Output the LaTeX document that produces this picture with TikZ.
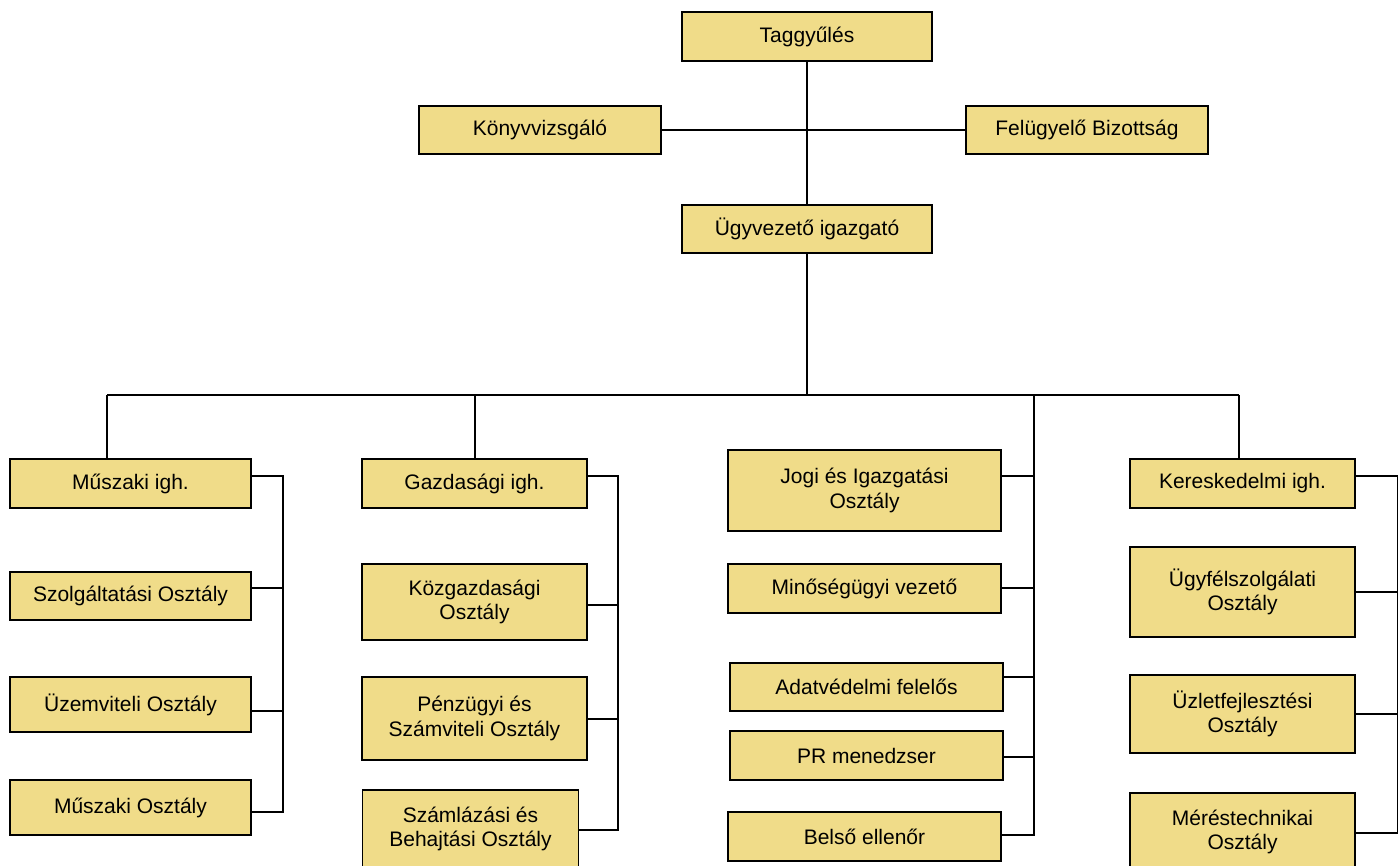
\documentclass[tikz,border=0pt]{standalone}
\usepackage{fontspec}
\setmainfont{Liberation Sans}
\definecolor{boxfill}{RGB}{240,220,137}
\begin{document}
\begin{tikzpicture}[x=1pt,y=-1pt,
  box/.style={draw=black, fill=boxfill, line width=1.8pt, inner sep=0pt, align=center,
    font=\fontsize{21}{24.5}\selectfont, text=black},
  conn/.style={draw=black, line width=1.7pt}]
\useasboundingbox (0,0) rectangle (1398,866);
% top
\node[box, minimum width=250pt, minimum height=49pt] (tag) at (807,36.5) {Taggyűlés};
\node[box, minimum width=242pt, minimum height=48pt] (konyv) at (540,130) {Könyvvizsgáló};
\node[box, minimum width=242pt, minimum height=48pt] (felu) at (1087,130) {Felügyelő Bizottság};
\node[box, minimum width=250pt, minimum height=48pt] (ugy) at (807,229) {Ügyvezető igazgató};
% column 1
\node[box, minimum width=241pt, minimum height=49pt] (mi) at (130.5,483.5) {Műszaki igh.};
\node[box, minimum width=241pt, minimum height=48pt] (szo) at (130.5,596) {Szolgáltatási Osztály};
\node[box, minimum width=241pt, minimum height=55pt] (uzem) at (130.5,704.5) {Üzemviteli Osztály};
\node[box, minimum width=241pt, minimum height=55pt] (mo) at (130.5,807.5) {Műszaki Osztály};
% column 2
\node[box, minimum width=225pt, minimum height=49pt] (gi) at (474.5,483.5) {Gazdasági igh.};
\node[box, minimum width=225pt, minimum height=76pt] (kozg) at (474.5,602) {Közgazdasági\\Osztály};
\node[box, minimum width=225pt, minimum height=83pt] (penz) at (474.5,718.5) {Pénzügyi és\\Számviteli Osztály};
\node[box, minimum width=216pt, minimum height=78pt] (szaml) at (470.5,829) {Számlázási és\\Behajtási Osztály};
% column 3
\node[box, minimum width=273pt, minimum height=81pt] (jogi) at (864.5,490.5) {Jogi és Igazgatási\\Osztály};
\node[box, minimum width=273pt, minimum height=49pt] (minos) at (864.5,588.5) {Minőségügyi vezető};
\node[box, minimum width=273pt, minimum height=48pt] (adat) at (866.5,687) {Adatvédelmi felelős};
\node[box, minimum width=273pt, minimum height=49pt] (pr) at (866.5,755.5) {PR menedzser};
\node[box, minimum width=273pt, minimum height=49pt] (belso) at (864.5,836.5) {Belső ellenőr};
% column 4
\node[box, minimum width=225pt, minimum height=49pt] (ker) at (1242.5,483.5) {Kereskedelmi igh.};
\node[box, minimum width=225pt, minimum height=90pt] (ugyf) at (1242.5,592) {Ügyfélszolgálati\\Osztály};
\node[box, minimum width=225pt, minimum height=78pt] (uzlet) at (1242.5,714) {Üzletfejlesztési\\Osztály};
\node[box, minimum width=225pt, minimum height=78pt] (meres) at (1242.5,832) {Méréstechnikai\\Osztály};
% coordinates
\coordinate (bus) at (807,395);
\coordinate (busL) at (107,395);
\coordinate (busG) at (475,395);
\coordinate (busJ) at (1034,395);
\coordinate (busR) at (1239,395);
\coordinate (sp1) at (283,476);
\coordinate (sp2) at (618,476);
\coordinate (edge) at (1398,476);
% top connectors
\draw[conn] (tag.south) -- (ugy.north);
\draw[conn] (konyv.east) -- (felu.west);
\draw[conn] (ugy.south) -- (bus);
\draw[conn] (busL) -- (busR);
\draw[conn] (busL) -- (busL |- mi.north);
\draw[conn] (busG) -- (busG |- gi.north);
\draw[conn] (busR) -- (busR |- ker.north);
% column 1
\draw[conn] ([yshift=7.5pt]mi.east) -- (sp1) |- ([yshift=-4.5pt]mo.east);
\draw[conn] ([yshift=8pt]szo.east) -| (sp1);
\draw[conn] ([yshift=-6.5pt]uzem.east) -| (sp1);
% column 2
\draw[conn] ([yshift=7.5pt]gi.east) -- (sp2) |- ([yshift=-1pt]szaml.east);
\draw[conn] ([yshift=-3pt]kozg.east) -| (sp2);
\draw[conn] ([yshift=-0.5pt]penz.east) -| (sp2);
% column 3
\draw[conn] (busJ) |- ([yshift=1.5pt]belso.east);
\draw[conn] ([yshift=14.5pt]jogi.east) -| (busJ);
\draw[conn] ([yshift=0.5pt]minos.east) -| (busJ);
\draw[conn] ([yshift=10pt]adat.east) -| (busJ);
\draw[conn] ([yshift=-1.5pt]pr.east) -| (busJ);
% column 4
\draw[conn] ([yshift=7.5pt]ker.east) -- (edge);
\draw[conn] (ugyf.east) -- (edge |- ugyf.east);
\draw[conn] (uzlet.east) -- (edge |- uzlet.east);
\draw[conn] ([yshift=-1pt]meres.east) -| (edge);
\end{tikzpicture}
\end{document}
